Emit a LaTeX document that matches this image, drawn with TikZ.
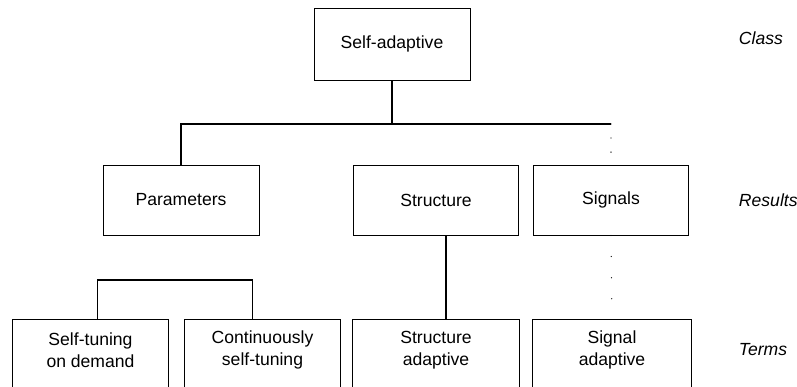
\documentclass[tikz,border=0pt]{standalone}
\usepackage{fontspec}
\setmainfont{Liberation Sans}
\usetikzlibrary{positioning}

\begin{document}
\begin{tikzpicture}[x=0.025cm, y=-0.025cm,
		font=\fontsize{12.5}{16}\selectfont,
		box/.style={draw, line width=0.65pt, inner sep=3pt, align=center, minimum height=1.75cm},
		term/.style={inner sep=3pt, align=center, minimum height=1.5cm},
		level/.style={anchor=west, font=\itshape\fontsize{12.5}{16}\selectfont},
		edge/.style={line width=0.75pt},
		sparse/.style={line width=0.9pt, line cap=round, dash pattern=on 0pt off 15pt}]
		\useasboundingbox (0,0) rectangle (797,387);
		\clip (0,0) rectangle (797,387);

		\draw (392,44) node[box, minimum width=3.9cm, minimum height=1.8cm] (sa) {Self-adaptive}
		(181,200) node[box, minimum width=3.9cm] (par) {Parameters}
		(436,200) node[box, minimum width=4.125cm] (str) {Structure}
		(611,200) node[box, minimum width=3.875cm] (sig) {Signals}
		(90.5,350) node[term, minimum width=3.875cm] (stod) {Self-tuning\\on demand}
		(262.5,350) node[term, minimum width=3.875cm] (cst) {Continuously\\self-tuning}
		(436,350) node[term, minimum width=4.15cm] (sad) {Structure\\adaptive}
		(612,350) node[term, minimum width=3.95cm] (siad) {Signal\\adaptive};

		% term boxes run past the lower edge
		\foreach \n in {stod,cst,sad,siad}
			\draw[line width=0.65pt] ([yshift=-1cm]\n.south west) |- (\n.north east) -- ([yshift=-1cm]\n.south east);

		\draw (734,38) node[level] (lclass) {Class}
		(734,200) node[level] (lres) {Results}
		(734,350) node[level] (lterm) {Terms};

		\coordinate (bus) at (0,124);
		\coordinate (brk) at (0,280);

		\draw[edge] (sa.south) -- (sa.south |- bus);
		\draw[edge] (par.north) |- (sig.north |- bus);
		\draw[sparse, dash pattern=on 0pt off 10pt] (sig.north |- bus) -- (sig.north);
		\draw[edge] ([xshift=0.25cm]str.south) -- ([xshift=0.25cm]sad.north);
		\draw[sparse] (sig.south) -- (siad.north);
		\draw[edge] ([xshift=0.17cm]stod.north) |- ([xshift=-0.26cm]cst.north |- brk) -- ([xshift=-0.26cm]cst.north);
	\end{tikzpicture}
\end{document}
